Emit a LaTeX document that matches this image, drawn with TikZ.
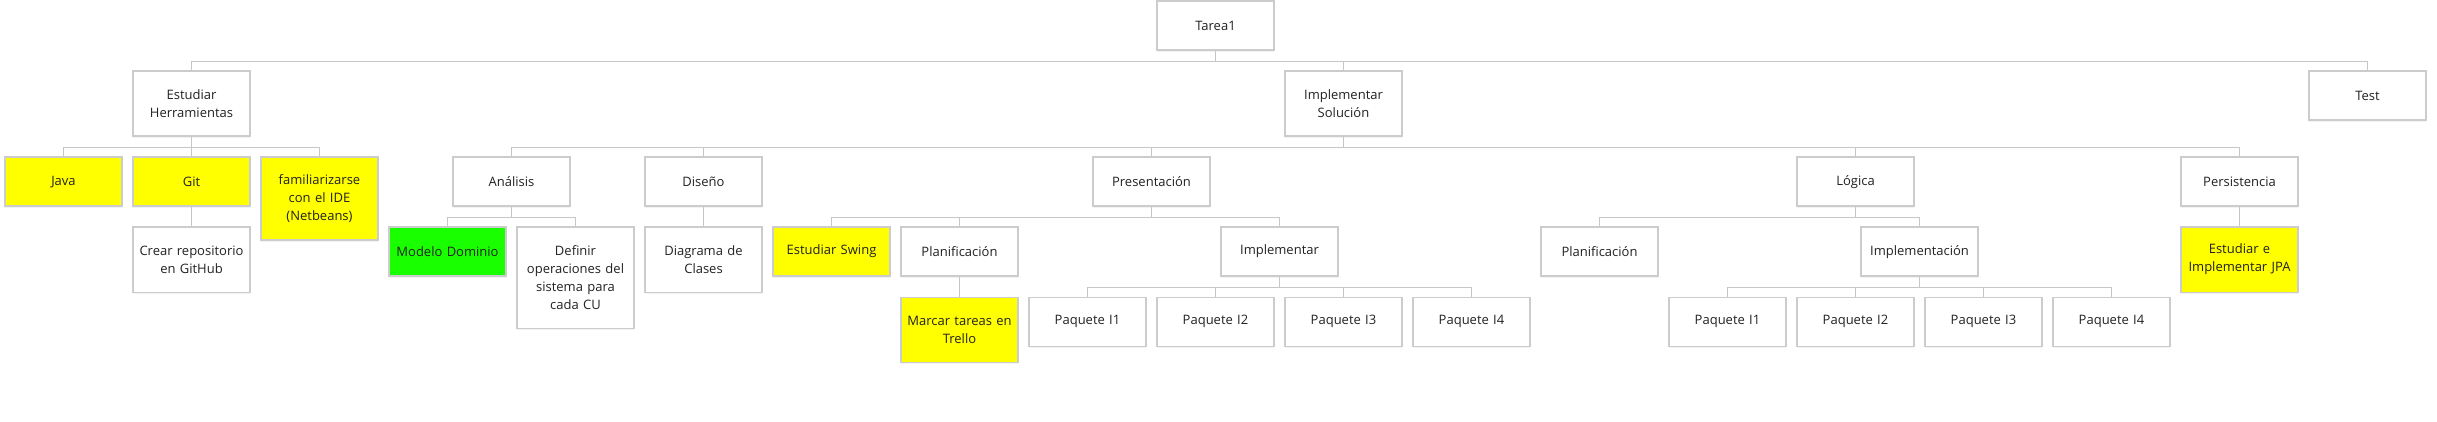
\documentclass[tikz,border=0pt]{standalone}
\usepackage{fontspec}
\setmainfont{Open Sans}
\usetikzlibrary{shadows}
\definecolor{boxborder}{HTML}{CCCCCC}
\definecolor{linkgray}{HTML}{C6C6C6}
\definecolor{hlyellow}{HTML}{FFFF00}
\definecolor{hlgreen}{HTML}{1AFF00}
\definecolor{txt}{HTML}{222222}
\newcommand\linkto[2]{\draw[linkline] (#1.south) -- ++(0,-11pt) -| (#2.north);}
\begin{document}
\begin{tikzpicture}[x=1pt,y=1pt,
  wbs/.style={draw=boxborder, line width=1.2pt, fill=white, text=txt,
    minimum width=117pt, inner sep=2pt, text width=112pt, align=center,
    anchor=north, font=\fontsize{13}{18}\selectfont,
    drop shadow={shadow xshift=0pt, shadow yshift=-2pt, opacity=0.10}},
  h1/.style={minimum height=49pt},
  h2/.style={minimum height=65pt},
  h3/.style={minimum height=83pt},
  h4/.style={minimum height=101pt},
  yel/.style={fill=hlyellow},
  grn/.style={fill=hlgreen},
  linkline/.style={draw=linkgray, line width=1.2pt}]
\useasboundingbox (0,0) rectangle (2437,-422);
% level 0
\node[wbs,h1] (T) at (1215.5,-0.5) {Tarea1};
% level 1
\node[wbs,h2] (EH) at (191.5,-70.5) {Estudiar\\Herramientas};
\node[wbs,h2] (IS) at (1343.5,-70.5) {Implementar\\Solución};
\node[wbs,h1] (Test) at (2367.5,-70.5) {Test};
% level 2
\node[wbs,h1,yel] (Java) at (63.5,-156.5) {Java};
\node[wbs,h1,yel] (Git) at (191.5,-156.5) {Git};
\node[wbs,h3,yel] (Fam) at (319.5,-156.5) {familiarizarse\\con el IDE\\(Netbeans)};
\node[wbs,h1] (An) at (511.5,-156.5) {Análisis};
\node[wbs,h1] (Dis) at (703.5,-156.5) {Diseño};
\node[wbs,h1] (Pres) at (1151.5,-156.5) {Presentación};
\node[wbs,h1] (Log) at (1855.5,-156.5) {Lógica};
\node[wbs,h1] (Per) at (2239.5,-156.5) {Persistencia};
% level 3
\node[wbs,h2] (Crear) at (191.5,-226.5) {Crear repositorio\\en GitHub};
\node[wbs,h1,grn] (MD) at (447.5,-226.5) {Modelo Dominio};
\node[wbs,h4] (Def) at (575.5,-226.5) {Definir\\operaciones del\\sistema para\\cada CU};
\node[wbs,h2] (DC) at (703.5,-226.5) {Diagrama de\\Clases};
\node[wbs,h1,yel] (ES) at (831.5,-226.5) {Estudiar Swing};
\node[wbs,h1] (PlP) at (959.5,-226.5) {Planificación};
\node[wbs,h1] (Impl) at (1279.5,-226.5) {Implementar};
\node[wbs,h1] (PlL) at (1599.5,-226.5) {Planificación};
\node[wbs,h1] (Imp2) at (1919.5,-226.5) {Implementación};
\node[wbs,h2,yel] (JPA) at (2239.5,-226.5) {Estudiar e\\Implementar JPA};
% level 4
\node[wbs,h2,yel] (Marcar) at (959.5,-296.5) {Marcar tareas en\\Trello};
\node[wbs,h1] (P1) at (1087.5,-296.5) {Paquete I1};
\node[wbs,h1] (P2) at (1215.5,-296.5) {Paquete I2};
\node[wbs,h1] (P3) at (1343.5,-296.5) {Paquete I3};
\node[wbs,h1] (P4) at (1471.5,-296.5) {Paquete I4};
\node[wbs,h1] (Q1) at (1727.5,-296.5) {Paquete I1};
\node[wbs,h1] (Q2) at (1855.5,-296.5) {Paquete I2};
\node[wbs,h1] (Q3) at (1983.5,-296.5) {Paquete I3};
\node[wbs,h1] (Q4) at (2111.5,-296.5) {Paquete I4};
% connectors
\linkto{T}{EH}\linkto{T}{IS}\linkto{T}{Test}
\linkto{EH}{Java}\linkto{EH}{Git}\linkto{EH}{Fam}
\linkto{Git}{Crear}
\linkto{IS}{An}\linkto{IS}{Dis}\linkto{IS}{Pres}\linkto{IS}{Log}\linkto{IS}{Per}
\linkto{An}{MD}\linkto{An}{Def}
\linkto{Dis}{DC}
\linkto{Pres}{ES}\linkto{Pres}{PlP}\linkto{Pres}{Impl}
\linkto{PlP}{Marcar}
\linkto{Impl}{P1}\linkto{Impl}{P2}\linkto{Impl}{P3}\linkto{Impl}{P4}
\linkto{Log}{PlL}\linkto{Log}{Imp2}
\linkto{Imp2}{Q1}\linkto{Imp2}{Q2}\linkto{Imp2}{Q3}\linkto{Imp2}{Q4}
\linkto{Per}{JPA}
\end{tikzpicture}
\end{document}
